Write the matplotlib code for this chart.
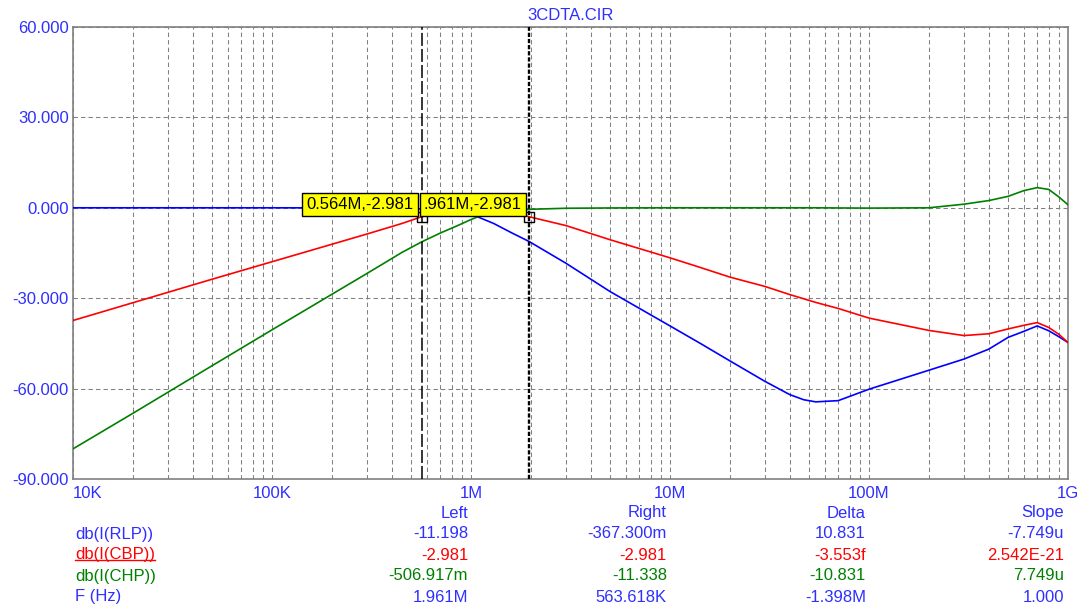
import matplotlib
matplotlib.use("Agg")
import matplotlib.pyplot as plt
from matplotlib.ticker import LogLocator, NullFormatter
from matplotlib.lines import Line2D

plt.rcParams["font.family"] = ["Liberation Sans", "DejaVu Sans"]

# frequency points (Hz) and the three traces in dB
freq = [1e4, 2e4, 5e4, 1e5, 2e5, 3e5, 4.5e5, 5.64e5, 7e5, 8.5e5, 1e6, 1.08e6,
        1.3e6, 1.6e6, 1.961e6, 3e6, 5e6, 1e7, 1.42e7, 2e7, 3e7, 4e7, 4.7e7, 5.4e7,
        7e7, 1e8, 2e8, 3e8, 4e8, 5e8, 6e8, 7e8, 8e8, 9e8, 1e9]
rlp = [0, 0, 0, 0, -0.03, -0.08, -0.2, -0.37, -0.85, -1.6, -2.5, -3.0,
       -5.2, -8.3, -11.2, -18.4, -27.8, -39.2, -45.0, -50.8, -57.6, -62.0, -63.7, -64.4,
       -64.0, -60.2, -53.9, -50.2, -46.9, -43.0, -41.0, -39.2, -40.8, -42.8, -44.7]
cbp = [-37.4, -31.5, -23.7, -17.9, -12.1, -8.7, -5.2, -2.98, -1.6, -0.8, -0.35, -0.3,
       -0.6, -1.6, -2.98, -5.9, -10.6, -16.6, -19.8, -23.0, -26.1, -28.8, -30.2, -31.4,
       -33.4, -36.6, -40.7, -42.4, -41.8, -40.2, -39.0, -38.1, -39.7, -42.0, -44.7]
chp = [-80.0, -68.2, -52.4, -40.5, -28.7, -21.8, -14.8, -11.34, -8.4, -6.0, -3.9, -3.0,
       -1.8, -0.9, -0.51, -0.15, -0.05, 0, 0, 0, 0, 0, 0, 0,
       -0.05, -0.1, 0.0, 1.2, 2.4, 3.8, 5.7, 6.7, 6.1, 3.6, 1.0]

# cursors
cur_dash = 5.64e5
cur_dot = 1.961e6
cur_val = -2.981
box_labels = ["0.564M,-2.981", ".961M,-2.981"]

xticks = [1e4, 1e5, 1e6, 1e7, 1e8, 1e9]
xticklabels = ["10K", "100K", "1M", "10M", "100M", "1G"]
yticks = [-90, -60, -30, 0, 30, 60]

row_names = ["db(I(RLP))", "db(I(CBP))", "db(I(CHP))", "F (Hz)"]
col_heads = ["Left", "Right", "Delta", "Slope"]
table = [
    ["-11.198", "-367.300m", "10.831", "-7.749u"],
    ["-2.981", "-2.981", "-3.553f", "2.542E-21"],
    ["-506.917m", "-11.338", "-10.831", "7.749u"],
    ["1.961M", "563.618K", "-1.398M", "1.000"],
]

BLUE_TXT = "#2f2fff"
row_colors = [BLUE_TXT, "#ff0000", "#008000", BLUE_TXT]

W, H = 1081, 607
fig = plt.figure(figsize=(W / 100, H / 100), dpi=100)
ax = fig.add_axes([73 / W, 1 - 479 / H, (1068 - 73) / W, (479 - 27) / H])


def px(x, y):
    return x / W, 1 - y / H


ax.set_xscale("log")
ax.set_xlim(1e4, 1e9)
ax.set_ylim(-90, 60)

grid_kw = dict(color="#808080", linewidth=0.75, linestyle=(0, (4.2, 3.0)))
ax.xaxis.set_minor_locator(LogLocator(base=10, subs=range(2, 10)))
ax.xaxis.set_minor_formatter(NullFormatter())
ax.grid(which="major", **grid_kw)
ax.grid(which="minor", axis="x", **grid_kw)
ax.set_axisbelow(True)

ax.set_yticks(yticks)
ax.set_yticklabels(["%.3f" % v for v in yticks])
ax.set_xticks(xticks)
ax.set_xticklabels(xticklabels)
ax.tick_params(which="both", length=0)
ax.tick_params(axis="y", labelcolor=BLUE_TXT, labelsize=12, pad=3)
ax.tick_params(axis="x", labelcolor=BLUE_TXT, labelsize=12, pad=5)
ax.get_xticklabels()[0].set_ha("left")

for s in ax.spines.values():
    s.set_color("#808080")
    s.set_linewidth(1.2)

ax.plot(freq, rlp, color="#0000ff", lw=1.2, zorder=3)
ax.plot(freq, cbp, color="#ff0000", lw=1.2, zorder=3)
ax.plot(freq, chp, color="#008000", lw=1.2, zorder=3)

# cursor lines
ax.axvline(cur_dash, color="black", lw=1.1, linestyle=(0, (8.5, 2.0)), zorder=4)
ax.axvline(cur_dot, color="black", lw=1.7, linestyle=(0, (1.8, 0.8)), zorder=4)
ax.plot([cur_dash, cur_dot], [cur_val, cur_val], linestyle="none", marker="s",
        ms=7, mfc="none", mec="black", mew=1.0, zorder=5)

# yellow cursor labels
for xv, lab, dx in zip([cur_dot, cur_dash], box_labels[::-1], [-7.5, -8]):
    ax.annotate(lab, xy=(xv, cur_val), xytext=(dx, 12.5), textcoords="offset pixels",
                ha="right", va="center", fontsize=12, color="black", zorder=6,
                bbox=dict(boxstyle="square,pad=0.25", fc="#ffff00", ec="black", lw=1.0))

fig.text(*px(570.5, 16), "3CDTA.CIR", color=BLUE_TXT, fontsize=12,
         ha="center", va="center")

# readout table
col_x = [468, 667, 866, 1064]
row_y = [534, 555, 576, 597]
for cx, head in zip(col_x, col_heads):
    fig.text(*px(cx, 513), head, color=BLUE_TXT, fontsize=12, ha="right", va="center")
texts = []
for ry, name, vals, c in zip(row_y, row_names, table, row_colors):
    texts.append(fig.text(*px(75, ry), name, color=c, fontsize=12, ha="left", va="center"))
    for cx, v in zip(col_x, vals):
        fig.text(*px(cx, ry), v, color=c, fontsize=12, ha="right", va="center")

# underline the selected trace name
fig.canvas.draw()
bb = texts[1].get_window_extent()
uy = bb.y0 + 3
fig.add_artist(Line2D([bb.x0 / W, bb.x1 / W], [uy / H, uy / H], color="#ff0000", lw=1.0))

fig.savefig("out.png", dpi=100)
